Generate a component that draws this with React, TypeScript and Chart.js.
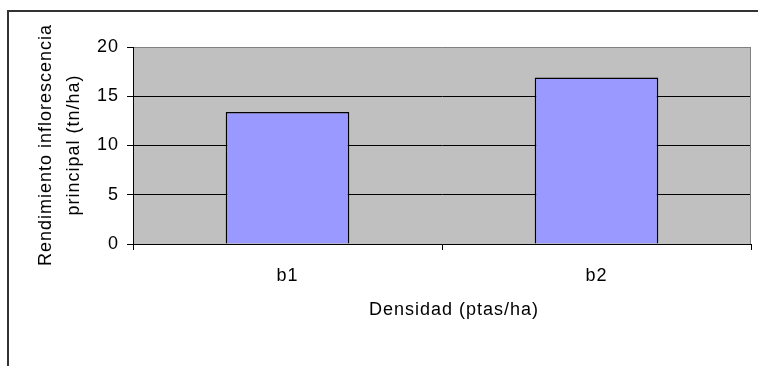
import { useEffect, useRef } from "react";
import { Chart, registerables } from "chart.js";

Chart.register(...registerables);

// Data
const categories = ["b1", "b2"];
const rendimiento = [13.4, 16.9];
const yMin = 0;
const yMax = 20;
const yStep = 5;
const yTitleLines = ["Rendimiento inflorescencia", "principal (tn/ha)"];
const xTitle = "Densidad (ptas/ha)";

const FONT = "Arial, 'Liberation Sans', sans-serif";
const FONT_SIZE = 18;
const SPACING = "1px";

// Grey plot background, outer frame and axis titles
const decorPlugin = {
  id: "decor",
  beforeDraw(chart: any) {
    const { ctx, chartArea: a } = chart;
    ctx.save();
    ctx.fillStyle = "#C0C0C0";
    ctx.fillRect(a.left, a.top, a.right - a.left, a.bottom - a.top);
    ctx.strokeStyle = "#333333";
    ctx.lineWidth = 2;
    ctx.beginPath();
    ctx.moveTo(8, chart.height);
    ctx.lineTo(8, 11);
    ctx.lineTo(chart.width, 11);
    ctx.stroke();
    ctx.restore();
    ctx.letterSpacing = SPACING;
  },
  beforeDatasetsDraw(chart: any) {
    const { ctx, chartArea: a } = chart;
    ctx.save();
    ctx.strokeStyle = "#808080";
    ctx.lineWidth = 1;
    ctx.beginPath();
    ctx.moveTo(Math.round(a.right) - 0.5, a.top);
    ctx.lineTo(Math.round(a.right) - 0.5, a.bottom);
    ctx.stroke();
    ctx.restore();
  },
  afterDraw(chart: any) {
    const { ctx, chartArea: a } = chart;
    ctx.save();
    ctx.fillStyle = "#000";
    ctx.font = `${FONT_SIZE}px ${FONT}`;
    ctx.textAlign = "center";
    ctx.textBaseline = "alphabetic";
    ctx.letterSpacing = SPACING;
    ctx.fillText(xTitle, 454, 315);
    const cy = (a.top + a.bottom) / 2;
    const baselines = [50.5, 79];
    yTitleLines.forEach((line, i) => {
      ctx.save();
      ctx.translate(baselines[i], cy - 0.5);
      ctx.rotate(-Math.PI / 2);
      ctx.fillText(line, 0, 0);
      ctx.restore();
    });
    ctx.restore();
  },
};

export default function App() {
  const canvasRef = useRef<HTMLCanvasElement | null>(null);

  useEffect(() => {
    if (!canvasRef.current) return;
    const chart = new Chart(canvasRef.current, {
      type: "bar",
      data: {
        labels: categories,
        datasets: [
          {
            data: rendimiento,
            backgroundColor: "#9999FF",
            borderColor: "#000000",
            borderWidth: 1.5,
            barPercentage: 0.4,
            categoryPercentage: 1,
          },
        ],
      },
      options: {
        animation: false,
        responsive: false,
        layout: { padding: { left: 0, top: 47, right: 7, bottom: 0 } },
        plugins: {
          legend: { display: false },
          tooltip: { enabled: false },
        },
        scales: {
          x: {
            offset: true,
            grid: {
              offset: true,
              drawOnChartArea: false,
              drawTicks: true,
              tickLength: 6,
              color: "#000",
              tickColor: "#000",
            },
            border: { display: true, color: "#000", width: 1 },
            ticks: {
              color: "#000",
              font: { family: FONT, size: FONT_SIZE },
              padding: 15,
            },
            afterFit(scale: any) {
              scale.height = 122;
            },
          },
          y: {
            min: yMin,
            max: yMax,
            ticks: {
              stepSize: yStep,
              color: "#000",
              font: { family: FONT, size: FONT_SIZE },
              padding: 8,
            },
            grid: {
              color: (c: any) => (c.tick && c.tick.value === yMax ? "#808080" : "#000"),
              tickColor: "#000",
              tickLength: 6,
              lineWidth: 1,
            },
            border: { display: true, color: "#000", width: 1 },
            afterFit(scale: any) {
              scale.width = 133;
            },
          },
        },
      },
      plugins: [decorPlugin],
    });
    return () => chart.destroy();
  }, []);

  return (
    <div style={{ position: "fixed", left: 0, top: 0, width: 758, height: 366, background: "#fff" }}>
      <canvas ref={canvasRef} width={758} height={366} style={{ display: "block" }} />
    </div>
  );
}
